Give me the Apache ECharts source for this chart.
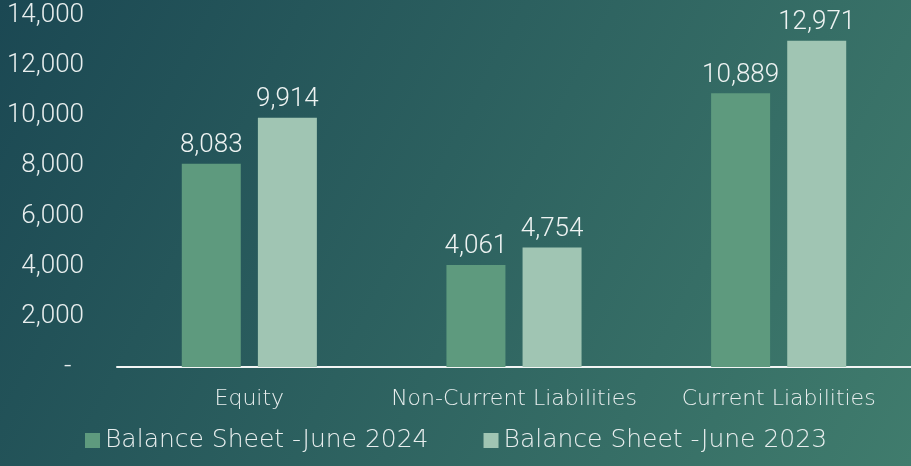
<!DOCTYPE html>
<html>
<head>
<meta charset="utf-8">
<script src="https://cdn.jsdelivr.net/npm/echarts@6/dist/echarts.min.js"></script>
<style>
  html, body { margin: 0; padding: 0; }
  #chart { width: 911px; height: 466px; }
</style>
</head>
<body>
<div id="chart"></div>
<script>
// chart data
const categories = ['Equity', 'Non-Current Liabilities', 'Current Liabilities'];
const june2024 = [8083, 4061, 10889];
const june2023 = [9914, 4754, 12971];
const seriesNames = ['Balance Sheet -June 2024', 'Balance Sheet -June 2023'];

const chart = echarts.init(document.getElementById('chart'));

const fmt = v => v === 0 ? '-  ' : v.toLocaleString('en-US');

const option = {
    backgroundColor: new echarts.graphic.LinearGradient(0, 0, 1, 1, [
        { offset: 0, color: '#1b4853' },
        { offset: 1, color: '#407c6d' }
    ]),
    textStyle: { fontFamily: 'Roboto' },
    grid: { left: 117, right: 0, top: 15, bottom: 99 },
    legend: {
        bottom: 8,
        left: 80,
        itemWidth: 15,
        itemHeight: 15,
        itemGap: 55,
        icon: 'rect',
        textStyle: { color: '#e8eeee', fontSize: 25, fontFamily: 'DejaVu Sans', fontWeight: 300 },
        data: seriesNames
    },
    xAxis: {
        type: 'category',
        data: categories,
        axisLine: { lineStyle: { color: '#f2f5f4', width: 2 } },
        axisTick: { show: false },
        axisLabel: {
            color: '#e8eeee', fontSize: 22, fontFamily: 'DejaVu Sans', fontWeight: 300,
            margin: 21, interval: 0
        }
    },
    yAxis: {
        type: 'value',
        min: 0,
        max: 14000,
        interval: 2000,
        splitLine: { show: false },
        axisTick: { show: false },
        axisLine: { show: false },
        axisLabel: {
            color: '#e8eeee', fontSize: 26, fontWeight: 300, margin: 33,
            formatter: fmt
        }
    },
    series: [
        {
            name: seriesNames[0],
            type: 'bar',
            data: june2024,
            barWidth: 59,
            barGap: '29%',
            itemStyle: { color: '#5e9a7e' },
            label: {
                show: true, position: 'top', distance: 5,
                color: '#eef3f2', fontSize: 26, fontWeight: 300,
                formatter: p => fmt(p.value)
            }
        },
        {
            name: seriesNames[1],
            type: 'bar',
            data: june2023,
            barWidth: 59,
            itemStyle: { color: '#a0c5b3' },
            label: {
                show: true, position: 'top', distance: 5,
                color: '#eef3f2', fontSize: 26, fontWeight: 300,
                formatter: p => fmt(p.value)
            }
        }
    ]
};

chart.setOption(option);
</script>
</body>
</html>
